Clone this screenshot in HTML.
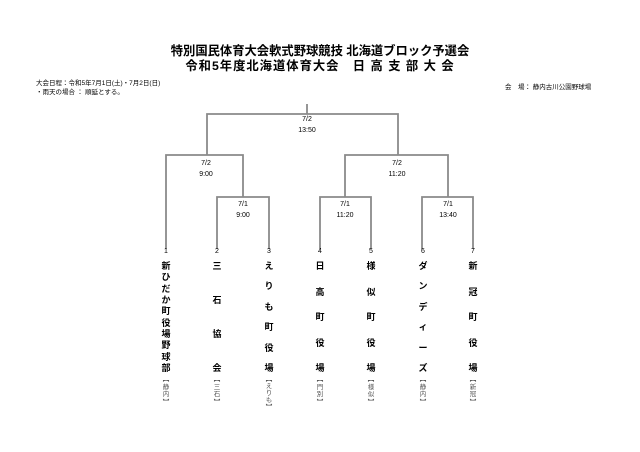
<!DOCTYPE html>
<html><head><meta charset="utf-8"><style>
body{margin:0;width:640px;height:452px;background:#fff;position:relative;overflow:hidden;font-family:"Liberation Sans","Noto Sans CJK JP",sans-serif;color:#000}
.a{position:absolute;white-space:nowrap}
.t{font-size:12.3px;font-weight:bold;left:0;width:640px;text-align:center}
.s{font-size:6.5px}
.lab{font-size:7px;text-align:center;width:40px;line-height:11px}
.col{position:absolute;top:261px;height:112px;width:14px;display:flex;flex-direction:column;justify-content:space-between;align-items:center;font-size:9px;font-weight:bold;line-height:10px}
.n{font-size:7px;width:14px;text-align:center;top:248px}
.br{position:absolute;top:376px;height:30px;width:14px;display:flex;flex-direction:column;justify-content:space-between;align-items:center;font-size:6.5px;color:#555;line-height:7px}
</style></head><body>
<div class="a t" style="top:41px">特別国民体育大会軟式野球競技 北海道ブロック予選会</div>
<div class="a t" style="top:56px;letter-spacing:1px">令和5年度北海道体育大会　日 高 支 部 大 会</div>
<div class="a s" style="left:36px;top:77px">大会日程：令和5年7月1日(土)・7月2日(日)</div>
<div class="a s" style="left:36px;top:86px">・雨天の場合 ： 順延とする。</div>
<div class="a s" style="left:505px;top:81px">会　場： 静内古川公園野球場</div>
<svg class="a" style="left:0;top:0" width="640" height="452">
<g stroke="#8a8a8a" stroke-width="1.8" fill="none">
<path d="M307 104V114M207 155V114H398V155"/>
<path d="M166 249V155H243V197M217 249V197H269V249"/>
<path d="M345 197V155H448V197M320 249V197H371V249M422 249V197H473V249"/>
</g></svg>
<div class="a lab" style="left:287px;top:114px">7/2<br>13:50</div>
<div class="a lab" style="left:186px;top:158px">7/2<br>9:00</div>
<div class="a lab" style="left:223px;top:199px">7/1<br>9:00</div>
<div class="a lab" style="left:377px;top:158px">7/2<br>11:20</div>
<div class="a lab" style="left:325px;top:199px">7/1<br>11:20</div>
<div class="a lab" style="left:428px;top:199px">7/1<br>13:40</div>
<div class="a n" style="left:159px">1</div><div class="a n" style="left:210px">2</div><div class="a n" style="left:262px">3</div><div class="a n" style="left:313px">4</div><div class="a n" style="left:364px">5</div><div class="a n" style="left:416px">6</div><div class="a n" style="left:466px">7</div>
<div class="col" style="left:159px"><span>新</span><span>ひ</span><span>だ</span><span>か</span><span>町</span><span>役</span><span>場</span><span>野</span><span>球</span><span>部</span></div>
<div class="col" style="left:210px"><span>三</span><span>石</span><span>協</span><span>会</span></div>
<div class="col" style="left:262px"><span>え</span><span>り</span><span>も</span><span>町</span><span>役</span><span>場</span></div>
<div class="col" style="left:313px"><span>日</span><span>高</span><span>町</span><span>役</span><span>場</span></div>
<div class="col" style="left:364px"><span>様</span><span>似</span><span>町</span><span>役</span><span>場</span></div>
<div class="col" style="left:416px"><span>ダ</span><span>ン</span><span>デ</span><span>ィ</span><span>ー</span><span>ズ</span></div>
<div class="col" style="left:466px"><span>新</span><span>冠</span><span>町</span><span>役</span><span>場</span></div>
<div class="br" style="left:159px"><span>︻</span><span>静</span><span>内</span><span>︼</span></div>
<div class="br" style="left:210px"><span>︻</span><span>三</span><span>石</span><span>︼</span></div>
<div class="br" style="left:262px"><span>︻</span><span>え</span><span>り</span><span>も</span><span>︼</span></div>
<div class="br" style="left:313px"><span>︻</span><span>門</span><span>別</span><span>︼</span></div>
<div class="br" style="left:364px"><span>︻</span><span>様</span><span>似</span><span>︼</span></div>
<div class="br" style="left:416px"><span>︻</span><span>静</span><span>内</span><span>︼</span></div>
<div class="br" style="left:466px"><span>︻</span><span>新</span><span>冠</span><span>︼</span></div>
</body></html>
